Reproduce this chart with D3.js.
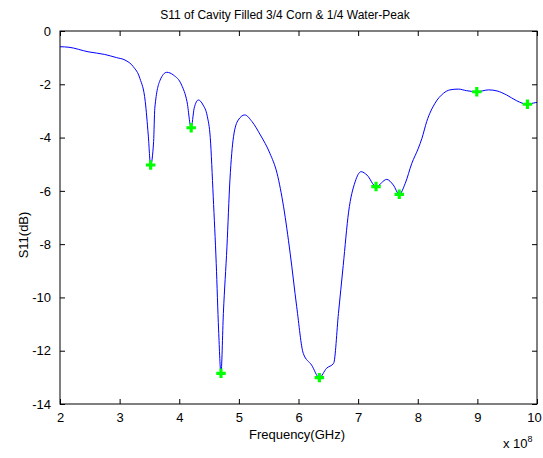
<!DOCTYPE html>
<html>
<head>
<meta charset="utf-8">
<script src="https://cdn.jsdelivr.net/npm/d3@7"></script>
<style>
  body { margin: 0; background: #fff; }
  svg { display: block; font-family: "Liberation Sans", Arial, Helvetica, sans-serif; }
</style>
</head>
<body>
<svg id="chart" width="543" height="458"></svg>
<script>
(function() {

  // frequency (x 10^8) and S11 (dB)
  var freq = [2.00, 2.15, 2.47, 2.75, 2.95, 3.09, 3.23, 3.34, 3.43, 3.48, 3.52, 3.57, 3.59, 3.68, 3.79, 3.90,
              4.04, 4.13, 4.20, 4.25, 4.32, 4.40, 4.47, 4.52, 4.57, 4.62, 4.66, 4.70, 4.74, 4.80, 4.85, 4.91,
              4.99, 5.10, 5.22, 5.36, 5.52, 5.64, 5.75, 5.86, 5.97, 6.08, 6.22, 6.35, 6.47, 6.59, 6.67, 6.75,
              6.84, 6.95, 7.05, 7.15, 7.30, 7.48, 7.59, 7.69, 7.79, 7.90, 8.01, 8.07, 8.15, 8.29, 8.43, 8.54,
              8.68, 8.82, 8.99, 9.19, 9.33, 9.49, 9.66, 9.84, 9.97, 10.00];
  var s11  = [-0.59, -0.61, -0.78, -0.88, -1.00, -1.09, -1.34, -1.78, -2.65, -3.90, -5.03, -4.15, -2.90, -1.84, -1.55, -1.65,
              -2.03, -2.65, -3.63, -2.90, -2.59, -2.78, -3.20, -4.00, -6.22, -8.72, -11.22, -12.85, -10.60, -8.10, -5.59, -3.97,
              -3.34, -3.15, -3.40, -3.90, -4.59, -5.34, -6.60, -8.34, -10.35, -12.10, -12.54, -13.01, -12.66, -12.47, -10.60, -8.80,
              -6.80, -5.66, -5.28, -5.41, -5.84, -5.57, -5.78, -6.13, -5.72, -4.97, -4.40, -4.03, -3.40, -2.71, -2.34, -2.21,
              -2.18, -2.24, -2.28, -2.21, -2.25, -2.40, -2.62, -2.75, -2.69, -2.68];

  // marked minima
  var peakFreq = [3.52, 4.20, 4.70, 6.35, 7.30, 7.69, 8.99, 9.84];
  var peakS11  = [-5.03, -3.63, -12.85, -13.01, -5.84, -6.13, -2.28, -2.75];

  var xTicks = [2, 3, 4, 5, 6, 7, 8, 9, 10];
  var yTicks = [0, -2, -4, -6, -8, -10, -12, -14];

  var margin = {top: 31, right: 6, bottom: 54, left: 60};
  var width = 543 - margin.left - margin.right;
  var height = 458 - margin.top - margin.bottom;

  var svg = d3.select("#chart");
  var g = svg.append("g").attr("transform", "translate(" + margin.left + "," + margin.top + ")");

  var x = d3.scaleLinear().domain([2, 10]).range([0, width]);
  var y = d3.scaleLinear().domain([-14, 0]).range([height, 0]);

  var data = freq.map(function(f, i) { return {f: f, v: s11[i]}; });
  var peaks = peakFreq.map(function(f, i) { return {f: f, v: peakS11[i]}; });

  var line = d3.line()
      .x(function(d) { return x(d.f); })
      .y(function(d) { return y(d.v); })
      .curve(d3.curveMonotoneX);

  g.append("path")
      .datum(data)
      .attr("fill", "none")
      .attr("stroke", "#0000ff")
      .attr("stroke-width", 1)
      .attr("d", line);

  // green plus markers
  var plus = d3.symbol().type(d3.symbolCross).size(50);
  g.selectAll(".peak")
      .data(peaks)
    .enter().append("path")
      .attr("class", "peak")
      .attr("d", plus)
      .attr("fill", "#00ff00")
      .attr("transform", function(d) { return "translate(" + x(d.f) + "," + y(d.v) + ")"; });

  // plain hyphen minus like matlab
  var fmt = function(d) { return String(d); };

  // axes, ticks pointing inward on all four sides
  var tickStyle = function(sel) {
    sel.select(".domain").remove();
    sel.selectAll("line").attr("stroke", "#000");
    sel.selectAll("text").attr("font-size", 13).attr("fill", "#000")
      .attr("font-family", "Liberation Sans, Arial, sans-serif");
  };

  var xAxisG = g.append("g")
      .attr("transform", "translate(0," + height + ")")
      .call(d3.axisBottom(x).tickValues(xTicks).tickSizeInner(-5).tickSizeOuter(0).tickPadding(9).tickFormat(fmt))
      .call(tickStyle);
  // keep the "10" inside the window
  xAxisG.selectAll(".tick").filter(function(d) { return d === 10; })
      .select("text").attr("dx", -3);

  g.append("g")
      .call(d3.axisTop(x).tickValues(xTicks).tickSizeInner(-5).tickSizeOuter(0).tickFormat(""))
      .call(tickStyle);
  g.append("g")
      .call(d3.axisLeft(y).tickValues(yTicks).tickSizeInner(-5).tickSizeOuter(0).tickPadding(9).tickFormat(fmt))
      .call(tickStyle);
  g.append("g")
      .attr("transform", "translate(" + width + ",0)")
      .call(d3.axisRight(y).tickValues(yTicks).tickSizeInner(-5).tickSizeOuter(0).tickFormat(""))
      .call(tickStyle);

  g.append("rect")
      .attr("width", width)
      .attr("height", height)
      .attr("fill", "none")
      .attr("stroke", "#000")
      .attr("stroke-width", 1);

  svg.append("text")
      .attr("x", 285)
      .attr("y", 19)
      .attr("text-anchor", "middle")
      .attr("font-size", 12)
      .text("S11 of Cavity Filled 3/4 Corn & 1/4 Water-Peak");

  svg.append("text")
      .attr("x", 297)
      .attr("y", 439)
      .attr("text-anchor", "middle")
      .attr("font-size", 13)
      .text("Frequency(GHz)");

  svg.append("text")
      .attr("transform", "translate(28,235) rotate(-90)")
      .attr("text-anchor", "middle")
      .attr("font-size", 13)
      .text("S11(dB)");

  var sci = svg.append("text")
      .attr("x", 503)
      .attr("y", 448)
      .attr("font-size", 13);
  sci.append("tspan").text("x 10");
  sci.append("tspan").attr("dy", -6).attr("font-size", 9).text("8");

})();
</script>
</body>
</html>
